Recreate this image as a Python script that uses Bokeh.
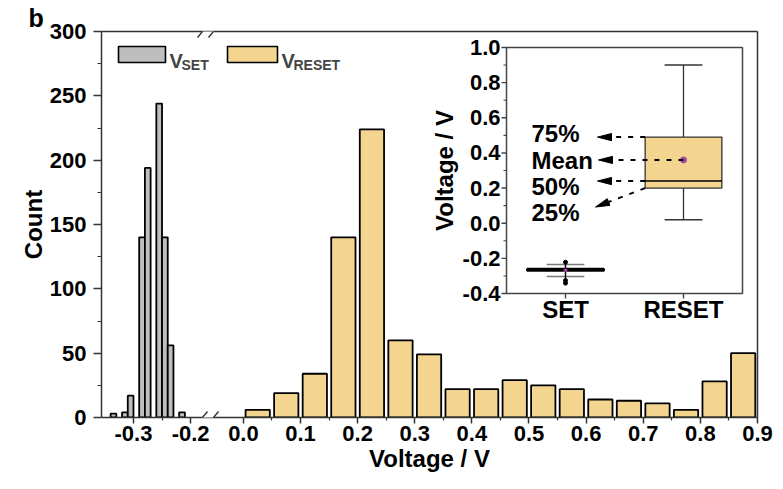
import math
from bokeh.plotting import figure
from bokeh.models import Range1d, LinearAxis, FixedTicker, BoxAnnotation, Label, Arrow
from bokeh.core.properties import value
from bokeh.embed import file_html
from bokeh.resources import INLINE

# ---------------- data ----------------
# SET voltage histogram (0.01 V bins)
set_bin_centers = [-0.335, -0.315, -0.305, -0.285, -0.275, -0.255, -0.245, -0.235, -0.215]
set_counts = [3, 4, 17, 140, 194, 244, 140, 56, 4]
set_bin_width = 0.01

# RESET voltage histogram (0.05 V bins)
reset_bin_centers = [0.025, 0.075, 0.125, 0.175, 0.225, 0.275, 0.325, 0.375, 0.425,
                     0.475, 0.525, 0.575, 0.625, 0.675, 0.725, 0.775, 0.825, 0.875]
reset_counts = [6, 19, 34, 140, 224, 60, 49, 22, 22, 29, 25, 22, 14, 13, 11, 6, 28, 50]
reset_bin_width = 0.05

voltage_ticks_left = [-0.3, -0.2]
voltage_minor_left = [-0.25]
voltage_ticks_right = [0.0, 0.1, 0.2, 0.3, 0.4, 0.5, 0.6, 0.7, 0.8, 0.9]
voltage_minor_right = [0.05, 0.15, 0.25, 0.35, 0.45, 0.55, 0.65, 0.75, 0.85]
count_ticks = [0, 50, 100, 150, 200, 250, 300]
count_minor = [25, 75, 125, 175, 225, 275]

# box-plot statistics (inset)
box_categories = ["SET", "RESET"]
box_q1 = [-0.270, 0.20]
box_median = [-0.265, 0.24]
box_q3 = [-0.260, 0.49]
box_low = [-0.303, 0.02]
box_high = [-0.235, 0.90]
box_mean = [-0.268, 0.36]
set_outliers = [-0.222, -0.326, -0.341]
inset_ticks = [-0.4, -0.2, 0.0, 0.2, 0.4, 0.6, 0.8, 1.0]
inset_minor = [-0.3, -0.1, 0.1, 0.3, 0.5, 0.7, 0.9]

# ---------------- layout / style ----------------
W, H = 783, 489
FL, FR, FT, FB = 101, 757, 31, 417          # main frame in pixels
U0, U1 = -0.356, 0.7926                    # main x range (broken-axis coordinate)
SHIFT = -0.1075                            # offset applied to the right segment
Y0, Y1 = 0, 300

FONT = "Liberation Sans"
FRAME = "#333333"
GRAY = "#BEBEBE"
BEIGE = "#F3D590"
PURPLE = "#A04AA0"
TICK_FS = "22px"
TITLE_FS = "24px"

sx_main = (FR - FL) / (U1 - U0)
sy_main = (FB - FT) / (Y1 - Y0)


def ux(px):
    return U0 + (px - FL) / sx_main


def cy(py):
    return Y0 + (FB - py) / sy_main


p = figure(width=W, height=H, x_range=Range1d(U0, U1), y_range=Range1d(Y0, Y1),
           output_backend="svg", toolbar_location=None,
           min_border_left=FL, min_border_right=W - FR,
           min_border_top=FT, min_border_bottom=H - FB)
p.outline_line_color = None
p.grid.visible = False
p.background_fill_color = "white"
p.border_fill_color = "white"

# panel letter in the title slot
p.title.text = "b"
p.title.align = "left"
p.title.offset = 28 - FL
p.title.standoff = 0
p.title.text_font = FONT
p.title.text_font_size = "25px"
p.title.text_font_style = "bold"
p.title.text_color = "black"


def style_axis(ax, tick_out, minor_out):
    ax.axis_line_color = FRAME
    ax.axis_line_width = 1.5
    ax.major_tick_line_color = FRAME
    ax.major_tick_line_width = 1.5
    ax.minor_tick_line_color = FRAME
    ax.minor_tick_line_width = 1.2
    ax.major_tick_in = 0
    ax.minor_tick_in = 0
    ax.major_tick_out = tick_out
    ax.minor_tick_out = minor_out
    ax.major_label_text_font = FONT
    ax.major_label_text_font_size = TICK_FS
    ax.major_label_text_font_style = "bold"
    ax.major_label_text_color = "black"
    ax.axis_label_text_font = FONT
    ax.axis_label_text_font_size = TITLE_FS
    ax.axis_label_text_font_style = "bold"
    ax.axis_label_text_color = "black"


# y axis
ya = p.yaxis[0]
style_axis(ya, 8, 4)
ya.ticker = FixedTicker(ticks=count_ticks, minor_ticks=count_minor)
ya.axis_label = "Count"
ya.major_label_standoff = 7
ya.axis_label_standoff = 0

# x axis with a break between -0.2 and 0.0
xa = p.xaxis[0]
style_axis(xa, 6, 3)
x_major = list(voltage_ticks_left) + [v + SHIFT for v in voltage_ticks_right]
x_minor = list(voltage_minor_left) + [v + SHIFT for v in voltage_minor_right]
xa.ticker = FixedTicker(ticks=x_major, minor_ticks=x_minor)
labels = [f"{v:.1f}" for v in voltage_ticks_left] + [f"{v:.1f}" for v in voltage_ticks_right]
xa.major_label_overrides = {u: t for u, t in zip(x_major, labels)}
xa.axis_label = "Voltage / V"
xa.major_label_standoff = 2
xa.axis_label_standoff = 1

# top and right frame lines
for side in ("above", "right"):
    ax = LinearAxis(ticker=FixedTicker(ticks=[]), axis_line_color=FRAME, axis_line_width=1.5,
                    major_tick_out=0, minor_tick_out=0, major_tick_in=0, minor_tick_in=0,
                    major_label_text_font_size="0px")
    p.add_layout(ax, side)

# histogram bars
p.vbar(x=set_bin_centers, width=set_bin_width, top=set_counts, bottom=0,
       fill_color=GRAY, line_color="black", line_width=1.8)
p.vbar(x=[v + SHIFT for v in reset_bin_centers], width=reset_bin_width * 0.85,
       top=reset_counts, bottom=0, fill_color=BEIGE, line_color="black", line_width=1.8)

# axis break marks (bottom and top)
for yline in (FB, FT):
    p.add_layout(BoxAnnotation(left=ux(202), right=ux(213), bottom=cy(yline + 4),
                               top=cy(yline - 4), fill_color="white", fill_alpha=1.0,
                               line_color=None, level="overlay"))
    for xc in (202, 213):
        p.add_layout(Arrow(x_start=ux(xc - 5), y_start=cy(yline + 6),
                           x_end=ux(xc + 5), y_end=cy(yline - 6),
                           start=None, end=None, line_color=FRAME, line_width=1.4,
                           level="overlay"))

# legend
leg = [(118, 165, GRAY, "SET"), (227, 277, BEIGE, "RESET")]
for x0, x1, col, sub in leg:
    p.quad(left=[ux(x0)], right=[ux(x1)], bottom=[cy(62)], top=[cy(46)],
           fill_color=col, line_color="black", line_width=1.6)
    p.add_layout(Label(x=ux(x1 + 4), y=cy(60), text="V", text_font=FONT,
                       text_font_size="20px", text_font_style="bold",
                       text_baseline="alphabetic", text_align="left"))
    p.add_layout(Label(x=ux(x1 + 16), y=cy(64), text=sub, text_font=FONT,
                       text_font_size="14px", text_font_style="bold",
                       text_baseline="alphabetic", text_align="left"))

# ---------------- inset box plot ----------------
IXL, IXR, IYT, IYB = 506, 742, 47, 293      # inset frame in pixels
IX0, IX1 = 0.5, 2.5
IV0, IV1 = -0.4, 1.0
ipx = (IXR - IXL) / (IX1 - IX0)
ipy = (IYB - IYT) / (IV1 - IV0)
p.extra_x_ranges = {"ix": Range1d(IX0 - (IXL - FL) / ipx, IX1 + (FR - IXR) / ipx)}
p.extra_y_ranges = {"iy": Range1d(IV0 - (FB - IYB) / ipy, IV1 + (IYT - FT) / ipy)}
IR = dict(x_range_name="ix", y_range_name="iy")


def ix(px):
    return IX0 + (px - IXL) / ipx


def iy(py):
    return IV1 - (py - IYT) / ipy


# frame
p.quad(left=[IX0], right=[IX1], bottom=[IV0], top=[IV1], fill_color=None,
       line_color="#444444", line_width=1.5, **IR)
# y ticks and labels
p.segment(x0=[IX0] * len(inset_ticks), x1=[IX0 - 5 / ipx] * len(inset_ticks),
          y0=inset_ticks, y1=inset_ticks, line_color="#444444", line_width=1.4, **IR)
p.segment(x0=[IX0] * len(inset_minor), x1=[IX0 - 3 / ipx] * len(inset_minor),
          y0=inset_minor, y1=inset_minor, line_color="#444444", line_width=1.1, **IR)
p.text(x=[IX0 - 6 / ipx] * len(inset_ticks), y=inset_ticks,
       text=[f"{v:.1f}" for v in inset_ticks], text_font=value(FONT), text_font_size=TICK_FS,
       text_font_style="bold", text_align="right", text_baseline="middle", **IR)
p.text(x=[ix(444)], y=[iy(170)], text=["Voltage / V"], angle=math.pi / 2,
       text_font=value(FONT), text_font_size=TITLE_FS, text_font_style="bold",
       text_align="center", text_baseline="middle", **IR)
# x ticks and category labels
cat_pos = [1, 2]
p.segment(x0=cat_pos, x1=cat_pos, y0=[IV0] * 2, y1=[IV0 - 5 / ipy] * 2,
          line_color="#444444", line_width=1.4, **IR)
p.text(x=cat_pos, y=[iy(309)] * 2, text=box_categories, text_font=value(FONT),
       text_font_size=TITLE_FS, text_font_style="bold", text_align="center",
       text_baseline="middle", **IR)

BOX_W = 0.65
CAP_W = 0.32
# whiskers
p.segment(x0=cat_pos, x1=cat_pos, y0=box_q3, y1=box_high, line_color="#333333",
          line_width=1.3, **IR)
p.segment(x0=cat_pos, x1=cat_pos, y0=box_q1, y1=box_low, line_color="#333333",
          line_width=1.3, **IR)
cap_cols = ["#7a7a7a", "#333333"]
p.segment(x0=[c - CAP_W / 2 for c in cat_pos], x1=[c + CAP_W / 2 for c in cat_pos],
          y0=box_high, y1=box_high, line_color=cap_cols, line_width=1.4, **IR)
p.segment(x0=[c - CAP_W / 2 for c in cat_pos], x1=[c + CAP_W / 2 for c in cat_pos],
          y0=box_low, y1=box_low, line_color=cap_cols, line_width=1.4, **IR)
# outliers of SET
p.segment(x0=[1], x1=[1], y0=[max(set_outliers)], y1=[min(set_outliers)],
          line_color="black", line_width=1.3, **IR)
p.scatter(x=[1] * len(set_outliers), y=set_outliers, marker="circle", size=4,
          fill_color="black", line_color="black", **IR)
# boxes
p.quad(left=[c - BOX_W / 2 for c in cat_pos], right=[c + BOX_W / 2 for c in cat_pos],
       bottom=box_q1, top=box_q3, fill_color=[GRAY, BEIGE], line_color=["black", "#333333"],
       line_width=[2.2, 1.3], **IR)
p.segment(x0=[c - BOX_W / 2 for c in cat_pos], x1=[c + BOX_W / 2 for c in cat_pos],
          y0=box_median, y1=box_median, line_color="black", line_width=[2.5, 1.5], **IR)
p.scatter(x=cat_pos, y=box_mean, marker="circle", size=[3, 6], fill_color=PURPLE,
          line_color=PURPLE, **IR)

# annotation arrows for the RESET box
reset_left = 2 - BOX_W / 2
ann = [
    ("75%", 133, (reset_left, box_q3[1]), (ix(597), box_q3[1])),
    ("Mean", 160, (2, box_mean[1]), (ix(598), box_mean[1])),
    ("50%", 185.5, (reset_left, box_median[1]), (ix(597), box_median[1])),
    ("25%", 212, (reset_left, box_q1[1]), (ix(595), iy(206.5))),
]
HEAD_L, HEAD_HW = 14, 3.6
hx, hy = [], []
for label, ty, tail, tip in ann:
    p.text(x=[ix(531)], y=[iy(ty)], text=[label], text_font=value(FONT),
           text_font_size=TITLE_FS, text_font_style="bold", text_align="left",
           text_baseline="middle", **IR)
    # head geometry in pixels
    dx = (tail[0] - tip[0]) * ipx
    dy = (tail[1] - tip[1]) * ipy
    n = math.hypot(dx, dy)
    ux_, uy_ = dx / n, dy / n
    bx, by = tip[0] + HEAD_L * ux_ / ipx, tip[1] + HEAD_L * uy_ / ipy
    px_, py_ = -uy_, ux_
    hx.append([tip[0], bx + HEAD_HW * px_ / ipx, bx - HEAD_HW * px_ / ipx])
    hy.append([tip[1], by + HEAD_HW * py_ / ipy, by - HEAD_HW * py_ / ipy])
    p.segment(x0=[tail[0]], y0=[tail[1]], x1=[bx], y1=[by], line_color="black",
              line_width=2, line_dash="5 7", **IR)
p.patches(xs=hx, ys=hy, fill_color="black", line_color="black", line_width=1, **IR)

open("out.html", "w").write(file_html(p, INLINE))
